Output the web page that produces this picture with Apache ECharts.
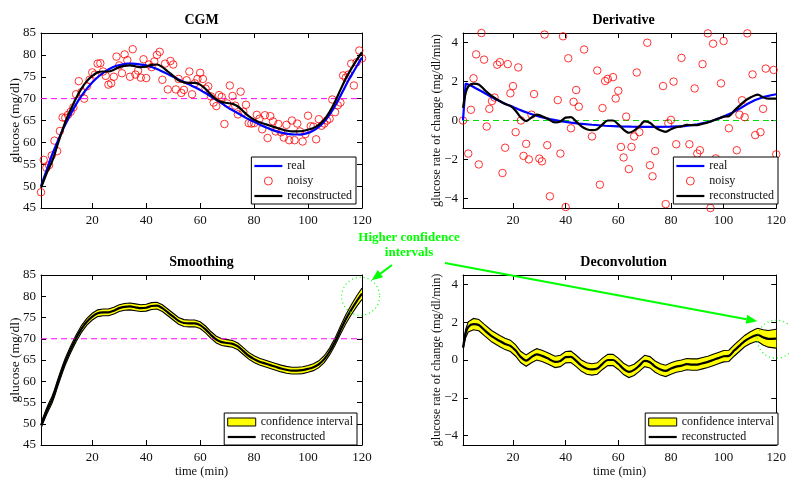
<!DOCTYPE html>
<html><head><meta charset="utf-8">
<script src="https://cdn.jsdelivr.net/npm/echarts@6/dist/echarts.min.js"></script>
<style>html,body{margin:0;padding:0;background:#fff}#c{width:789px;height:479px}</style>
</head><body><div id="c"></div>
<script>
// ---------- data ----------
const xTicks = [20, 40, 60, 80, 100, 120];
const cgmTicks = [45, 50, 55, 60, 65, 70, 75, 80, 85];
const derTicks = [-4, -2, 0, 2, 4];
const hypoLevel = 70;
const zeroLevel = 0;

const tNoisy = Array.from({length: 120}, (_, i) => i + 1);
const cgmNoisy = [48.6,56,54.2,54.8,57,60.4,58,62.6,65.7,65.6,
  66.3,67,68,71,74,71.5,70,72.8,74.3,76,
  75.5,78,78.1,76.2,75.2,73.2,73.5,75,79.6,77.6,
  75.8,80.1,78.8,75,81.3,75.5,76.4,74.8,79,74.7,
  77.8,77.2,78.5,80,80.7,74.3,78,72.1,78.6,77.8,
  72.1,74.5,71.3,72,74.2,76.2,71,73.5,74.5,75.9,
  74.5,72.3,72.8,70.5,69.1,68.3,70.8,70.4,64.2,68.9,
  73,70.6,68.4,66.4,71.6,67,68.6,64.4,64.3,64.4,
  66.3,65.4,63,66.2,61,66,64.8,62.5,64.2,62.3,
  61.1,64,60.5,65,60.5,64.3,62.5,60.2,61.9,66.1,
  63.7,63.6,60.7,65.3,63.8,64.3,65,65.4,69.8,66.9,
  68.5,69.1,75.3,74.8,75.5,78,73,78.3,81,79.2];

const tCgmReal = [1,3,5,7,9,11,13,15,17,19,21,23,25,27,29,31,33,35,37,39,41,43,45,47,49,51,53,55,57,59,61,63,65,67,69,71,73,75,77,79,81,83,85,87,89,91,93,95,97,99,101,103,105,107,109,111,113,115,117,119,120];
const cgmReal = [50.0,53.5,57.0,60.0,62.8,65.3,67.6,69.7,71.5,73.0,74.3,75.4,76.3,77.0,77.5,77.8,78.0,78.0,77.9,77.7,77.4,77.0,76.5,75.9,75.3,74.7,74.1,73.5,72.9,72.3,71.6,70.9,70.1,69.3,68.5,67.7,67.0,66.3,65.6,65.0,64.4,63.8,63.3,62.8,62.4,62.1,61.9,61.8,61.8,62.0,62.4,63.1,64.1,65.5,67.3,69.4,71.8,74.2,76.3,78.4,79.4];

const tCgmRecon = [1,2,3,4,5,6,7,8,9,10,11,12,13,14,16,18,20,22,24,26,28,30,32,34,36,38,40,42,44,46,48,50,52,54,56,58,60,62,64,66,68,70,72,74,76,78,80,82,84,86,88,90,92,94,96,98,100,102,104,106,108,110,112,114,116,118,120];
const cgmRecon = [49.6,51.2,52.8,54.2,55.5,57.2,59.2,61.1,62.9,64.6,66.1,67.5,68.8,70.1,
  72.3,74.0,75.2,76.0,76.2,76.2,76.6,77.2,77.5,77.6,77.4,77.2,77.3,77.7,77.8,77.2,76.2,75.2,74.2,73.7,73.6,73.6,73.2,72.2,70.9,69.8,69.2,69.0,68.8,68.2,67.1,66.0,65.2,64.6,64.2,63.8,63.4,63.0,62.7,62.5,62.5,62.6,62.9,63.3,64.0,65.2,67.0,69.3,72.0,74.6,76.8,78.8,80.6];
const cgmCI = [0.65,0.7,0.75,0.8,0.8,0.8,0.8,0.8,0.8,0.8,0.8,0.8,0.8,0.8,
  0.8,0.8,0.8,0.8,0.8,0.8,0.8,0.8,0.8,0.8,0.8,0.8,0.8,0.8,0.8,0.8,0.8,0.8,0.8,0.8,0.8,0.8,0.8,0.8,0.8,0.8,0.8,0.8,0.8,0.8,0.8,0.8,0.8,0.8,0.8,0.8,0.8,0.8,0.8,0.8,0.8,0.8,0.8,0.8,0.8,0.8,0.8,0.85,0.95,1.05,1.15,1.25,1.35];

const tDerNoisy = [1,3,4,5,6,7,8,9,10,11,12,13,14,15,16,17,18,19,20,21,22,23,24,25,26,27,28,30,31,32,33,34,37,38,39,40,41,42,43,44,45,47,50,52,53,54,55,56,58,59,60,61,62,63,64,65,66,67,68,71,72,73,74,77,78,79,80,81,82,84,87,89,90,91,92,94,95,96,97,99,100,102,105,106,107,108,109,111,112,114,115,116,119,120];
const derNoisy = [0,-1.7,0.55,2.17,3.4,-2.26,4.5,3.13,-0.31,0.6,1.0,1.18,2.87,3.0,-2.7,-1.4,2.9,1.4,1.77,-0.6,2.73,0.0,-1.82,-1.2,-2.0,0.3,1.36,-1.96,-2.1,4.42,-1.27,-3.9,1.05,-1.7,4.33,-4.45,3.2,-0.4,0.96,1.57,0.71,3.65,-0.82,2.57,-3.3,0.64,2.03,2.14,2.23,1.13,1.53,-1.36,-1.9,0.2,-2.5,-1.36,-0.82,2.47,-0.6,4.0,-2.3,-2.87,-1.57,1.77,-4.3,-0.14,0.03,2.0,-1.22,3.22,-1.22,1.65,-1.7,-1.53,2.9,4.48,-4.5,3.95,-1.95,1.91,4.09,-0.4,-1.53,0.3,1.04,0.17,4.48,2.37,-0.75,-0.6,0.6,2.67,2.6,-1.74];

const tDerReal = [1,2,4,6,8,10,12,14,16,18,20,22,24,26,28,30,32,34,36,38,40,42,45,50,55,60,65,70,75,80,85,90,95,97,100,103,106,109,112,115,118,120];
const derReal = [0,1.9,1.8,1.65,1.5,1.35,1.2,1.05,0.92,0.8,0.7,0.58,0.47,0.37,0.28,0.2,0.13,0.07,0.02,-0.03,-0.07,-0.11,-0.16,-0.22,-0.27,-0.3,-0.32,-0.33,-0.33,-0.32,-0.29,-0.2,-0.05,0.05,0.2,0.38,0.6,0.85,1.05,1.2,1.3,1.35];

const tDerRecon = [1,2,3,5,7,9,12,15,17,19,21,23,25,27,29,31,33,36,38,40,42,44,46,48,50,52,54,56,58,60,62,64,66,68,70,72,74,76,78,80,82,84,86,88,90,92,94,96,98,100,102,104,106,108,110,112,113,115,117,120];
const derRecon = [0.65,1.4,1.75,1.9,1.85,1.6,1.25,1.0,0.85,0.75,0.5,0.15,-0.03,0.15,0.3,0.22,0.1,-0.1,-0.05,0.15,0.17,-0.05,-0.3,-0.45,-0.5,-0.45,-0.2,0,0,-0.2,-0.47,-0.63,-0.52,-0.3,-0.05,-0.12,-0.35,-0.5,-0.58,-0.45,-0.35,-0.3,-0.22,-0.24,-0.24,-0.17,-0.1,0,0.1,0.2,0.22,0.5,0.75,1.0,1.17,1.3,1.33,1.2,1.12,1.13];
const derCI = [0.15,0.22,0.27,0.3,0.3,0.3,0.3,0.3,0.3,0.3,0.3,0.3,0.3,0.3,0.3,0.3,0.3,0.3,0.3,0.3,0.3,0.3,0.3,0.3,0.3,0.3,0.3,0.3,0.3,0.3,0.3,0.3,0.3,0.3,0.3,0.3,0.3,0.3,0.3,0.3,0.3,0.3,0.3,0.3,0.3,0.3,0.3,0.3,0.3,0.3,0.3,0.3,0.3,0.3,0.31,0.33,0.35,0.4,0.44,0.5];

const titles = ['CGM', 'Derivative', 'Smoothing', 'Deconvolution'];
const annotationText = 'Higher confidence\nintervals';

// ---------- chart ----------
const FONT = '"Liberation Serif", "Times New Roman", serif';
const GREEN = '#00ff00';
const LINE_ICON = 'path://M0,0H28V2.2H0Z';
const zip = (a, b) => a.map((v, i) => [v, b[i]]);
const chart = echarts.init(document.getElementById('c'), null, {renderer: 'canvas'});

const gridBoxes = [
  {left: 41, top: 33, width: 321, height: 175},
  {left: 463, top: 33, width: 321, height: 175},
  {left: 41, top: 275, width: 321, height: 175},
  {left: 463, top: 275, width: 321, height: 175}
];
const minus = v => (v < 0 ? '\u2212' + Math.abs(v) : String(v));

function xAx(g, pos, main, name) {
  return {
    type: 'value', gridIndex: g, position: pos, min: 1, max: 120,
    axisLine: {show: true, onZero: false, lineStyle: {color: '#000', width: 1}},
    axisTick: {show: true, inside: true, length: 5, customValues: xTicks, lineStyle: {color: '#000'}},
    axisLabel: {show: main, customValues: xTicks, margin: 6, color: '#111', fontFamily: FONT, fontSize: 13},
    splitLine: {show: false},
    name: main ? name : '', nameLocation: 'middle', nameGap: 20,
    nameTextStyle: {fontFamily: FONT, fontSize: 12.5, color: '#111'}
  };
}
function yAx(g, pos, main, min, max, ticks, name, nameSize, nameGap) {
  return {
    type: 'value', gridIndex: g, position: pos, min: min, max: max,
    axisLine: {show: true, onZero: false, lineStyle: {color: '#000', width: 1}},
    axisTick: {show: true, inside: true, length: 5, customValues: ticks, lineStyle: {color: '#000'}},
    axisLabel: {show: main, customValues: ticks, margin: 5, color: '#111', fontFamily: FONT, fontSize: 13, formatter: minus},
    splitLine: {show: false},
    name: main ? name : '', nameLocation: 'middle', nameGap: nameGap, nameRotate: 90,
    nameMoveOverlap: false,
    nameTextStyle: {fontFamily: FONT, fontSize: nameSize, color: '#111'}
  };
}

const xAxes = [], yAxes = [];
for (let g = 0; g < 4; g++) {
  const nm = g >= 2 ? 'time (min)' : '';
  xAxes.push(xAx(g, 'bottom', true, nm), xAx(g, 'top', false, ''));
  if (g % 2 === 0) {
    yAxes.push(yAx(g, 'left', true, 45, 85, cgmTicks, 'glucose (mg/dl)', 13.5, 19),
               yAx(g, 'right', false, 45, 85, cgmTicks, '', 13, 19));
  } else {
    yAxes.push(yAx(g, 'left', true, -4.5, 4.5, derTicks, 'glucose rate of change (mg/dl/min)', 12.3, 20),
               yAx(g, 'right', false, -4.5, 4.5, derTicks, '', 12, 20));
  }
}

function lineS(name, g, data, color, width, extra) {
  return Object.assign({
    type: 'line', name: name, xAxisIndex: 2 * g, yAxisIndex: 2 * g, data: data,
    symbol: 'none', showSymbol: false, smooth: 0.3, z: 3,
    lineStyle: {color: color, width: width}, itemStyle: {color: color}
  }, extra || {});
}
function refLineS(g, level, color) {
  return {type: 'line', name: '_ref' + g, xAxisIndex: 2 * g, yAxisIndex: 2 * g,
    data: [[1, level], [120, level]], symbol: 'none', silent: true, z: 2,
    lineStyle: {color: color, width: 1, type: [6, 4]}, itemStyle: {color: color}};
}
function scatterS(name, g, data) {
  return {type: 'scatter', name: name, xAxisIndex: 2 * g, yAxisIndex: 2 * g, data: data,
    symbol: 'circle', symbolSize: 7.5, z: 2,
    itemStyle: {color: 'rgba(255,255,255,0)', borderColor: '#ff0000', borderWidth: 1}};
}
function bandS(g, t, center, ci) {
  const lower = center.map((v, i) => v - ci[i]);
  const upper = center.map((v, i) => v + ci[i]);
  return {
    type: 'custom', name: 'confidence interval', xAxisIndex: 2 * g, yAxisIndex: 2 * g, z: 1, clip: true,
    data: t.map((v, i) => [v, lower[i], upper[i]]),
    encode: {x: 0, y: [1, 2]},
    itemStyle: {color: '#ffff00'},
    renderItem: (params, api) => {
      if (params.dataIndex !== 0) return null;
      const up = t.map((v, i) => api.coord([v, upper[i]]));
      const lo = t.map((v, i) => api.coord([v, lower[i]]));
      return {type: 'group', children: [
        {type: 'polygon', shape: {points: up.concat(lo.slice().reverse())}, style: {fill: '#ffff00', stroke: null}},
        {type: 'polyline', shape: {points: up}, style: {stroke: '#000', lineWidth: 1.1, fill: null}},
        {type: 'polyline', shape: {points: lo}, style: {stroke: '#000', lineWidth: 1.1, fill: null}}
      ]};
    }
  };
}

const series = [
  // CGM
  refLineS(0, hypoLevel, '#ff00ff'),
  scatterS('noisy', 0, zip(tNoisy, cgmNoisy)),
  lineS('real', 0, zip(tCgmReal, cgmReal), '#0000ff', 2.2),
  lineS('reconstructed', 0, zip(tCgmRecon, cgmRecon), '#000', 2.2, {z: 4}),
  // Derivative
  refLineS(1, zeroLevel, '#00dd00'),
  scatterS('noisy', 1, zip(tDerNoisy, derNoisy)),
  lineS('real', 1, zip(tDerReal, derReal), '#0000ff', 2.2, {smooth: false}),
  lineS('reconstructed', 1, zip(tDerRecon, derRecon), '#000', 2.2, {z: 4}),
  // Smoothing
  bandS(2, tCgmRecon, cgmRecon, cgmCI),
  refLineS(2, hypoLevel, '#ff00ff'),
  lineS('reconstructed', 2, zip(tCgmRecon, cgmRecon), '#000', 2.2, {z: 4}),
  // Deconvolution
  bandS(3, tDerRecon, derRecon, derCI),
  lineS('reconstructed', 3, zip(tDerRecon, derRecon), '#000', 2.2, {z: 4})
];

function legend(right, top, names) {
  return {
    orient: 'vertical', right: right, top: top, selectedMode: false,
    itemWidth: 28, itemHeight: 8, itemGap: 3,
    padding: [3, 4, 2, 3],
    borderColor: '#000', borderWidth: 1, backgroundColor: '#fff',
    textStyle: {fontFamily: FONT, fontSize: 12, color: '#111', lineHeight: 12},
    data: names
  };
}
const realItem = {name: 'real', icon: LINE_ICON};
const reconItem = {name: 'reconstructed', icon: LINE_ICON};
const noisyItem = {name: 'noisy', icon: 'circle', itemStyle: {color: 'rgba(255,255,255,0)', borderColor: '#ff0000', borderWidth: 1}};
const ciItem = {name: 'confidence interval', icon: 'rect', itemStyle: {color: '#ffff00', borderColor: '#000', borderWidth: 1}};

const titleGraphics = titles.map((t, i) => ({
  type: 'text', x: gridBoxes[i].left + gridBoxes[i].width / 2, y: gridBoxes[i].top - 13, z: 10,
  style: {text: t, font: 'bold 14px ' + FONT, fill: '#000', align: 'center', verticalAlign: 'middle'}
}));

chart.setOption({
  animation: false,
  backgroundColor: '#fff',
  grid: gridBoxes.map(b => Object.assign({containLabel: false, show: false}, b)),
  xAxis: xAxes,
  yAxis: yAxes,
  legend: [
    legend(433, 157, [realItem, noisyItem, reconItem]),
    legend(11, 157, [realItem, noisyItem, reconItem]),
    legend(432, 413, [ciItem, reconItem]),
    legend(11, 413, [ciItem, reconItem])
  ],
  series: series,
  graphic: titleGraphics
});

// ---------- annotation (anchored to data coordinates) ----------
const smoothIdx = 10;
const deconvIdx = series.length - 1;
const c1 = chart.convertToPixel({seriesIndex: smoothIdx}, [119.5, 80]);
const c2 = chart.convertToPixel({seriesIndex: deconvIdx}, [120, 1.1]);
function arrow(x0, y0, x1, y1) {
  const dx = x1 - x0, dy = y1 - y0, L = Math.hypot(dx, dy);
  const ux = dx / L, uy = dy / L, hl = 11, hw = 4.5;
  const bx = x1 - ux * hl, by = y1 - uy * hl;
  return [
    {type: 'line', z: 20, shape: {x1: x0, y1: y0, x2: bx, y2: by}, style: {stroke: GREEN, lineWidth: 2}},
    {type: 'polygon', z: 20, shape: {points: [[x1, y1], [bx - uy * hw, by + ux * hw], [bx + uy * hw, by - ux * hw]]},
     style: {fill: GREEN}}
  ];
}
chart.setOption({
  graphic: titleGraphics.concat([
    {type: 'text', x: 409, y: 245, z: 20,
     style: {text: annotationText, font: 'bold 13px ' + FONT, fill: GREEN, align: 'center', verticalAlign: 'middle', lineHeight: 15}},
    {type: 'circle', z: 20, shape: {cx: c1[0], cy: c1[1], r: 19}, style: {fill: 'none', stroke: GREEN, lineWidth: 1.2, lineDash: [1, 3]}},
    {type: 'circle', z: 20, shape: {cx: c2[0], cy: c2[1], r: 19}, style: {fill: 'none', stroke: GREEN, lineWidth: 1.2, lineDash: [1, 3]}},
    ...arrow(392, 265, c1[0] + 11, c1[1] - 16),
    ...arrow(445, 263, c2[0] - 19, c2[1] - 18)
  ])
});
</script>
</body></html>
